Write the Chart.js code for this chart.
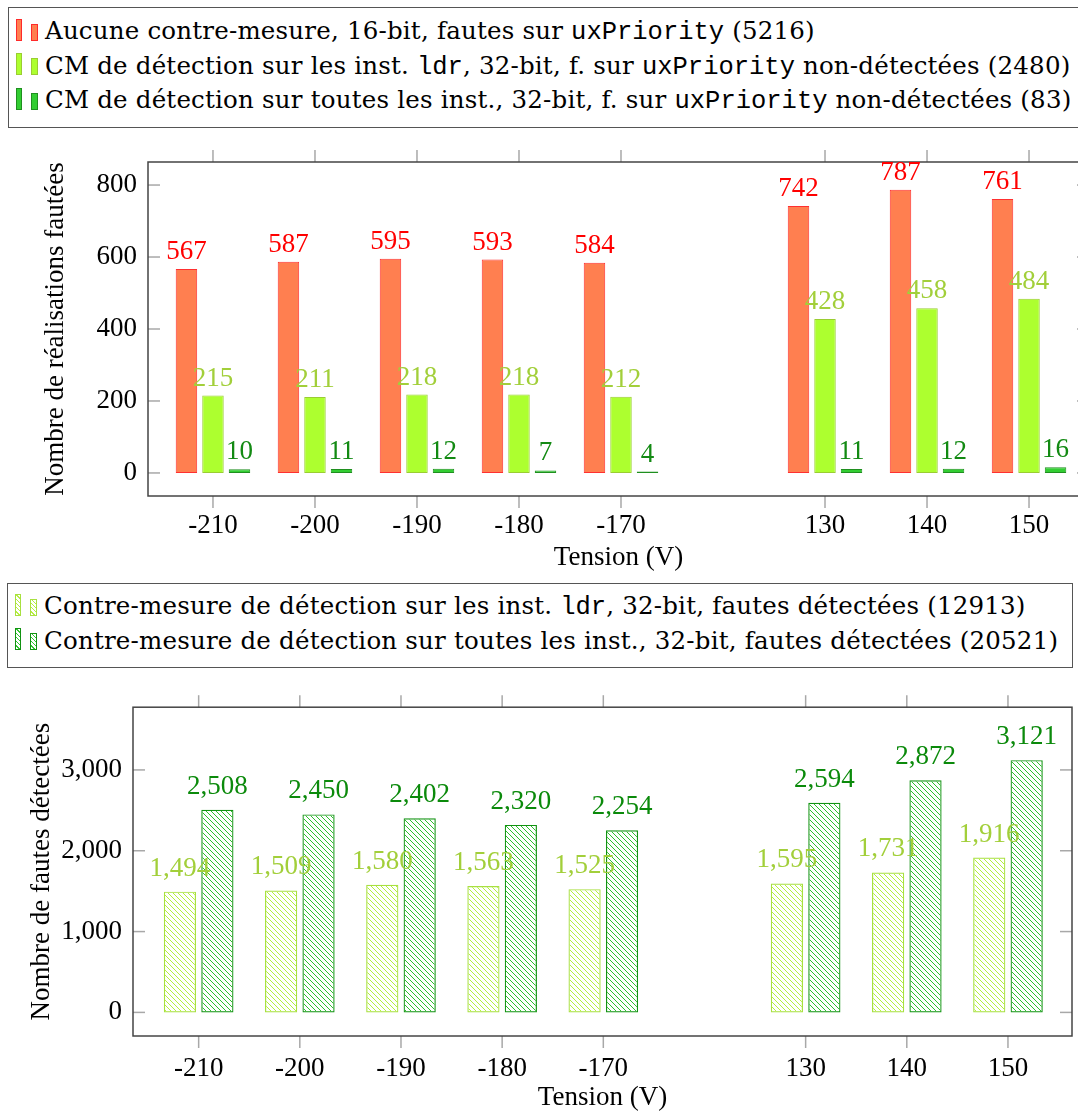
<!DOCTYPE html>
<html>
<head>
<meta charset="utf-8">
<script src="https://cdn.jsdelivr.net/npm/chart.js@4.4.1/dist/chart.umd.min.js"></script>
<style>
  html, body { margin: 0; padding: 0; background: #fff; overflow: hidden; width: 1078px; height: 1111px; }
  .legend { position: absolute; box-sizing: border-box; border: 1.5px solid #555;
    font-family: "DejaVu Serif", serif; font-size: 24.5px; letter-spacing: 0.2px; color: #000; white-space: nowrap; }
  .row { position: relative; height: 34.5px; line-height: 34.5px; padding-left: 36px; }
  .row code { font-family: "Liberation Mono", monospace; font-size: 25.5px; letter-spacing: 0; }
  .ico { position: absolute; bottom: 8px; box-sizing: border-box; border: 1px solid; }
  .ico.a { left: 7px; width: 6px; height: 22px; }
  .ico.b { left: 22px; width: 7px; height: 17px; }
  .red { background: #ff7f50; border-color: #ff2a2a; }
  .lime { background: #adff2f; border-color: #9acd32; }
  .grn { background: #32cd32; border-color: #1f8f1f; }
  .hlime { border-color: #a8e040; background: repeating-linear-gradient(45deg, #fff 0 2px, #b8f040 2px 3px); }
  .hgrn { border-color: #129212; background: repeating-linear-gradient(45deg, #fff 0 2px, #32c832 2px 3px); }
  .wrap { position: absolute; left: 0; }
</style>
</head>
<body>
<div class="legend" style="left:8px;top:7px;width:1078px;height:121px;padding-top:6px">
  <div class="row"><span class="ico a red"></span><span class="ico b red"></span>Aucune contre-mesure, 16-bit, fautes sur <code>uxPriority</code> (5216)</div>
  <div class="row"><span class="ico a lime"></span><span class="ico b lime"></span>CM de détection sur les inst. <code>ldr</code>, 32-bit, f. sur <code>uxPriority</code> non-détectées (2480)</div>
  <div class="row"><span class="ico a grn"></span><span class="ico b grn"></span>CM de détection sur toutes les inst., 32-bit, f. sur <code>uxPriority</code> non-détectées (83)</div>
</div>
<div class="wrap" style="top:130px"><canvas id="chartTop" width="1100" height="450"></canvas></div>

<div class="legend" style="left:7px;top:583px;width:1066px;height:85px;padding-top:5px">
  <div class="row"><span class="ico a hlime"></span><span class="ico b hlime"></span>Contre-mesure de détection sur les inst. <code>ldr</code>, 32-bit, fautes détectées (12913)</div>
  <div class="row"><span class="ico a hgrn"></span><span class="ico b hgrn"></span>Contre-mesure de détection sur toutes les inst., 32-bit, fautes détectées (20521)</div>
</div>
<div class="wrap" style="top:680px"><canvas id="chartBot" width="1100" height="434"></canvas></div>

<script>
// Data (empty slot separates negative and positive tensions)
const slots = ["-210", "-200", "-190", "-180", "-170", "", "130", "140", "150"];
const noCM = [567, 587, 595, 593, 584, null, 742, 787, 761];
const cmLdr = [215, 211, 218, 218, 212, null, 428, 458, 484];
const cmAll = [10, 11, 12, 7, 4, null, 11, 12, 16];
const detLdr = [1494, 1509, 1580, 1563, 1525, null, 1595, 1731, 1916];
const detAll = [2508, 2450, 2402, 2320, 2254, null, 2594, 2872, 3121];
const topYTicks = [0, 200, 400, 600, 800];
const botYTicks = [0, 1000, 2000, 3000];

const FONT = "Liberation Serif";
Chart.defaults.font.family = FONT;
Chart.defaults.font.size = 27;
Chart.defaults.color = "#000";

const toXY = (arr) =>
  arr.map((y, i) => ({ x: i, y })).filter((p) => p.y !== null);

function hatch(color) {
  const s = 5;
  const c = document.createElement("canvas");
  c.width = s;
  c.height = s;
  const g = c.getContext("2d");
  g.strokeStyle = color;
  g.lineWidth = 1;
  for (let o = -s; o <= s; o += s) {
    g.beginPath();
    g.moveTo(o, 0);
    g.lineTo(o + s, s);
    g.stroke();
  }
  return g.createPattern(c, "repeat");
}

// pgfplots-like frame: box, inner y ticks, outer x ticks
const frame = {
  id: "frame",
  beforeDatasetsDraw(chart) {
    const { ctx, chartArea: a, scales } = chart;
    const seg = (x1, y1, x2, y2) => {
      ctx.beginPath();
      ctx.moveTo(x1, y1);
      ctx.lineTo(x2, y2);
      ctx.stroke();
    };
    ctx.save();
    ctx.strokeStyle = "#a8a8a8";
    ctx.lineWidth = 1.5;
    scales.y.ticks.forEach((t) => {
      const py = scales.y.getPixelForValue(t.value);
      seg(a.left, py, a.left + 12, py);
      seg(a.right - 12, py, a.right, py);
    });
    scales.x.ticks.forEach((t) => {
      const px = scales.x.getPixelForValue(t.value);
      seg(px, a.top - 12, px, a.top);
      seg(px, a.bottom, px, a.bottom + 12);
    });
    ctx.strokeStyle = "#444";
    ctx.strokeRect(a.left, a.top, a.right - a.left, a.bottom - a.top);
    ctx.restore();
  },
};

const valueLabels = {
  id: "valueLabels",
  afterDatasetsDraw(chart, args, opts) {
    const { ctx } = chart;
    ctx.save();
    ctx.font = `27px "${FONT}"`;
    ctx.textAlign = "center";
    ctx.textBaseline = "alphabetic";
    chart.data.datasets.forEach((ds, di) => {
      ctx.fillStyle = ds.labelColor;
      chart.getDatasetMeta(di).data.forEach((bar, i) => {
        ctx.fillText(opts.fmt(ds.data[i].y), bar.x, bar.y - opts.gap);
      });
    });
    ctx.restore();
  },
};

function xScale(min, max, height, tickPad, titlePad) {
  return {
    type: "linear",
    min,
    max,
    offset: false,
    grid: { display: false, drawTicks: false, offset: false },
    border: { display: false },
    afterBuildTicks: (s) => {
      s.ticks = slots
        .map((l, i) => ({ value: i }))
        .filter((t) => slots[t.value] !== "");
    },
    afterFit: (s) => {
      s.height = height;
    },
    ticks: {
      autoSkip: false,
      maxRotation: 0,
      padding: tickPad,
      callback: (v) => slots[v],
    },
    title: { display: true, text: "Tension (V)", padding: { top: 0, bottom: titlePad } },
  };
}

function yScale(min, max, ticks, width, title, titlePad, fmt) {
  return {
    min,
    max,
    grid: { display: false, drawTicks: false },
    border: { display: false },
    afterBuildTicks: (s) => {
      s.ticks = ticks.map((v) => ({ value: v }));
    },
    afterFit: (s) => {
      s.width = width;
    },
    ticks: { padding: 11, callback: fmt },
    title: { display: true, text: title, padding: { top: titlePad, bottom: 0 } },
  };
}

// ── Top chart ──
new Chart(document.getElementById("chartTop"), {
  type: "bar",
  data: {
    datasets: [
      { data: toXY(noCM), backgroundColor: "#ff7f50", borderColor: "#ff3030", labelColor: "#ff0000" },
      { data: toXY(cmLdr), backgroundColor: "#adff2f", borderColor: "#9acd32", labelColor: "#a2cf3a" },
      { data: toXY(cmAll), backgroundColor: "#32cd32", borderColor: "#1f8f1f", labelColor: "#138a13" },
    ],
  },
  options: {
    responsive: false,
    animation: false,
    layout: { padding: { left: 0, top: 32, right: 11, bottom: 0 } },
    datasets: { bar: { borderWidth: 1, borderSkipped: false, categoryPercentage: 0.78, barPercentage: 0.81 } },
    plugins: {
      legend: { display: false },
      tooltip: { enabled: false },
      valueLabels: { gap: 10, fmt: (v) => String(v) },
    },
    scales: {
      x: xScale(-0.637, 8.588, 84, 14, 6),
      y: yScale(-64, 864, topYTicks, 148, "Nombre de réalisations fautées", 40, (v) => String(v)),
    },
  },
  plugins: [frame, valueLabels],
});

// ── Bottom chart ──
const fmtK = (v) => v.toLocaleString("en-US");
new Chart(document.getElementById("chartBot"), {
  type: "bar",
  data: {
    datasets: [
      { data: toXY(detLdr), backgroundColor: hatch("#b4f03c"), borderColor: "#a8e040", labelColor: "#a2cf3a" },
      { data: toXY(detAll), backgroundColor: hatch("#2ec02e"), borderColor: "#129212", labelColor: "#0b8a0b" },
    ],
  },
  options: {
    responsive: false,
    animation: false,
    layout: { padding: { left: 0, top: 22, right: 28, bottom: 0 } },
    datasets: { bar: { borderWidth: 1.2, borderSkipped: false, categoryPercentage: 0.74, barPercentage: 0.86 } },
    plugins: {
      legend: { display: false },
      tooltip: { enabled: false },
      valueLabels: { gap: 16, fmt: fmtK },
    },
    scales: {
      x: xScale(-0.649, 8.633, 78, 17, 0),
      y: yScale(-292, 3776, botYTicks, 133, "Nombre de fautes détectées", 26, fmtK),
    },
  },
  plugins: [frame, valueLabels],
});
</script>
</body>
</html>
